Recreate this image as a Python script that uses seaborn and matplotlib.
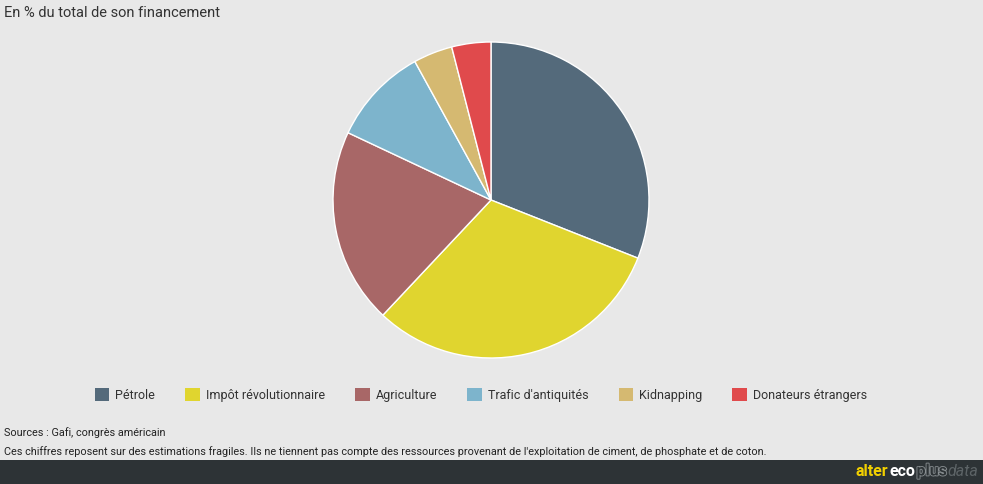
import matplotlib.pyplot as plt
import matplotlib.patheffects as pe
import seaborn as sns
from matplotlib.patches import Rectangle, Patch

# data
labels = ["Pétrole", "Impôt révolutionnaire", "Agriculture",
          "Trafic d'antiquités", "Kidnapping", "Donateurs étrangers"]
shares = [31, 31, 20, 10, 4, 4]
colors = ["#546a7b", "#e0d52f", "#a86767", "#7db4cc", "#d5b971", "#e04a4c"]

title = "En % du total de son financement"
source = "Sources : Gafi, congrès américain"
note = ("Ces chiffres reposent sur des estimations fragiles. Ils ne tiennent pas compte "
        "des ressources provenant de l'exploitation de ciment, de phosphate et de coton.")

sns.set_theme(style="white")
plt.rcParams["font.family"] = ["Roboto", "DejaVu Sans"]

W, H = 983, 484
bg = "#e8e8e8"
fig = plt.figure(figsize=(W / 100, H / 100), dpi=100, facecolor=bg)

# pie axes, in pixel coords
cx, cy, r = 491, 200, 158
ax = fig.add_axes([(cx - r) / W, (H - cy - r) / H, 2 * r / W, 2 * r / H])
ax.set_facecolor(bg)
palette = sns.color_palette(colors)
ax.pie(shares, colors=palette, startangle=90, counterclock=False,
       wedgeprops=dict(edgecolor="white", linewidth=1))
ax.set_xlim(-1, 1)
ax.set_ylim(-1, 1)
ax.set_aspect("equal")
ax.axis("off")

fig.text(4 / W, 1 - 13 / H, title, fontsize=10.5, color="#333333",
         va="center", ha="left")

handles = [Patch(facecolor=c, edgecolor="none") for c in palette]
fig.legend(handles, labels, loc="center", bbox_to_anchor=(481 / W, 1 - 395 / H),
           ncol=6, frameon=False, handlelength=1.15, handleheight=1.15,
           handletextpad=0.5, columnspacing=2.4,
           prop=dict(size=9), labelcolor="#333333")

fig.text(4 / W, 1 - 433 / H, source, fontsize=7.8, color="#222222", va="center")
fig.text(4 / W, 1 - 452 / H, note, fontsize=7.8, color="#222222", va="center")

# footer bar + logo, pieces chained left to right
fig.patches.append(Rectangle((0, 0), 1, 24 / H, transform=fig.transFigure,
                             facecolor="#2d3336", edgecolor="none", zorder=0))
fy = 1 - 471 / H
renderer = fig.canvas.get_renderer()
pieces = [
    ("alter", dict(color="#f2d000", fontweight="bold")),
    ("eco", dict(color="white", fontweight="bold")),
    ("plus", dict(color="#2d3336", fontweight="bold",
                  path_effects=[pe.withStroke(linewidth=1.2, foreground="#8a9093")])),
    ("data", dict(color="#5c6366", style="italic")),
]
x = 856
for word, kw in pieces:
    t = fig.text(x / W, fy, word, fontsize=11.5, ha="left", va="center", **kw)
    x = t.get_window_extent(renderer).x1 + 1

fig.savefig("out.png", dpi=100, facecolor=bg)
